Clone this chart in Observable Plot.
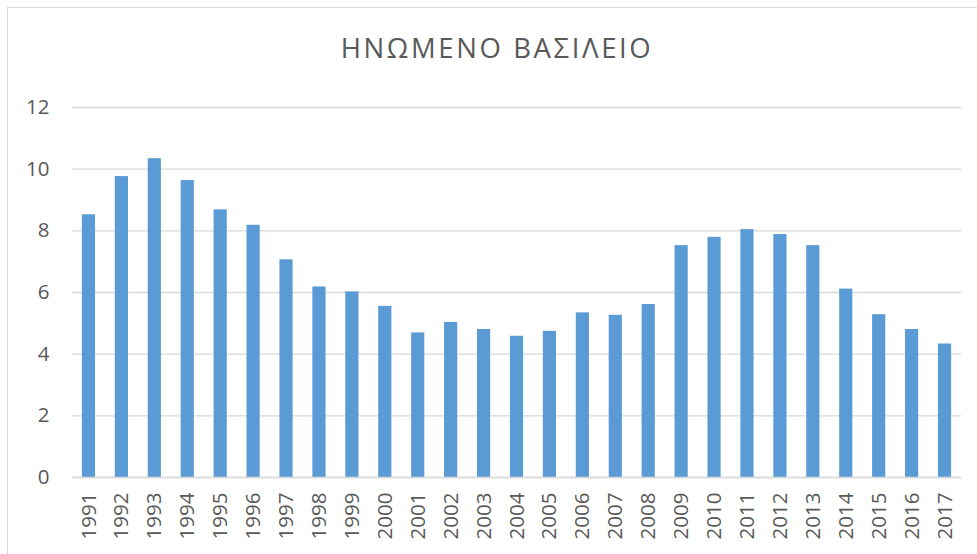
<!DOCTYPE html>
<html>
<head>
<meta charset="utf-8">
<script src="https://cdn.jsdelivr.net/npm/d3@7"></script>
<script src="https://cdn.jsdelivr.net/npm/@observablehq/plot@0.6"></script>
<style>
  html, body { margin: 0; padding: 0; background: #fff; }
  #wrap { position: relative; width: 977px; height: 554px; overflow: hidden; }
  #border { position: absolute; left: 7px; top: 7px; width: 1000px; height: 600px; border: 1.5px solid #d9d9d9; box-sizing: border-box; }
  #title { position: absolute; left: 0; top: 29px; width: 994px; text-align: center; font-family: "Open Sans", sans-serif; font-size: 27.5px; letter-spacing: 2.6px; color: #595959; }
  #chart { position: absolute; left: 0; top: 0; }
</style>
</head>
<body>
<div id="wrap">
  <div id="border"></div>
  <div id="chart"></div>
  <div id="title">ΗΝΩΜΕΝΟ ΒΑΣΙΛΕΙΟ</div>
</div>
<script>
const years = ["1991","1992","1993","1994","1995","1996","1997","1998","1999","2000","2001","2002","2003","2004","2005","2006","2007","2008","2009","2010","2011","2012","2013","2014","2015","2016","2017"];
const values = [8.52,9.76,10.34,9.63,8.68,8.18,7.06,6.18,6.02,5.55,4.69,5.03,4.80,4.58,4.74,5.34,5.26,5.61,7.52,7.79,8.04,7.88,7.52,6.11,5.28,4.80,4.33];
const yTicks = [0,2,4,6,8,10,12];

const data = years.map((y, i) => ({year: y, value: values[i]}));

const chart = Plot.plot({
  width: 977,
  height: 554,
  marginLeft: 72,
  marginRight: 16,
  marginTop: 107,
  marginBottom: 77,
  style: {fontFamily: "Open Sans, sans-serif", fontSize: "20.5px", color: "#595959", background: "transparent"},
  x: {domain: years, round: false, paddingInner: 0.6, paddingOuter: 0.3, label: null},
  y: {domain: [0, 12], label: null},
  marks: [
    Plot.gridY(yTicks, {stroke: "#d9d9d9", strokeOpacity: 1, strokeWidth: 1.3}),
    Plot.barY(data, {x: "year", y: "value", fill: "#5b9bd5", inset: 0}),
    Plot.ruleY([0], {stroke: "#d9d9d9", strokeWidth: 1.5}),
    Plot.axisY(yTicks, {tickSize: 0, tickPadding: 23, label: null, fill: "#595959", fontSize: 20.5}),
    Plot.axisX({tickSize: 0, tickPadding: 15, tickRotate: -90, label: null, fill: "#595959", fontSize: 20.5})
  ]
});
document.getElementById("chart").appendChild(chart);
</script>
</body>
</html>
